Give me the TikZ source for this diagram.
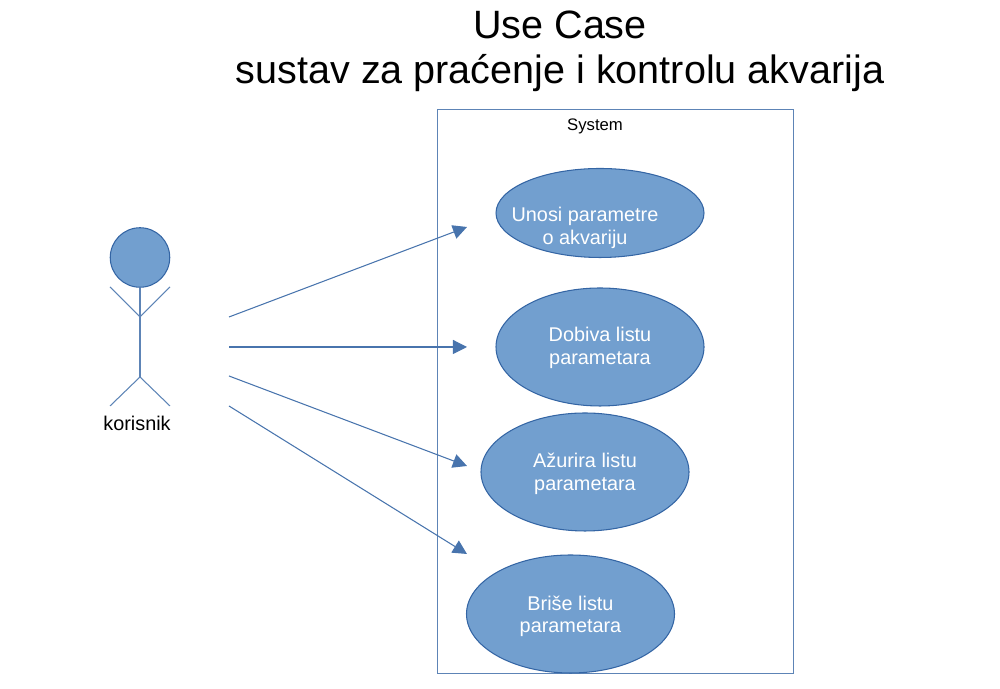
\documentclass[tikz,border=0pt]{standalone}
\usepackage{fontspec}
\setmainfont{Liberation Sans}
\definecolor{caseblue}{RGB}{114, 159, 207}
\definecolor{lineblue}{RGB}{52, 101, 164}
\usetikzlibrary{shapes, arrows.meta}
\tikzset{
  usecase/.style={draw=lineblue, fill=caseblue, ellipse, line width=0.6pt, minimum width=4.16cm, inner sep=0pt},
  casetext/.style={text=white, align=center, font=\fontsize{11.3}{12.8}\selectfont, inner sep=0pt},
  stick/.style={draw=lineblue!80, line width=0.6pt},
  usearrow/.style={draw=lineblue!90, line width=0.6pt, -{Triangle[length=8pt, width=8pt]}}
}

\begin{document}
\begin{tikzpicture}
  \useasboundingbox (0, 0) rectangle (20, 13.78);

  % Title
  \node[font=\fontsize{22.5}{25.6}\selectfont, align=center, inner sep=0pt] (title) at (11.2, 12.76) {Use Case\\sustav za praćenje i kontrolu akvarija};

  % System boundary
  \node[draw=lineblue!80, line width=0.5pt, minimum width=7.12cm, minimum height=11.28cm, inner sep=0pt] (sysbox) at (12.3, 5.96) {};
  \node[font=\fontsize{9.5}{11}\selectfont, inner sep=0pt] (syslabel) at (11.9, 11.25) {System};

  % Use cases
  \node[usecase, minimum height=1.78cm] (unosi) at (12, 9.52) {};
  \node[usecase, minimum height=2.36cm] (dobiva) at (12, 6.84) {};
  \node[usecase, minimum height=2.36cm] (azurira) at (11.7, 4.34) {};
  \node[usecase, minimum height=2.36cm] (brise) at (11.41, 1.5) {};

  \node[casetext] (unositext) at (11.7, 9.22) {Unosi parametre\\o akvariju};
  \node[casetext] (dobivatext) at (12, 6.82) {Dobiva listu\\parametara};
  \node[casetext] (azuriratext) at (11.7, 4.3) {Ažurira listu\\parametara};
  \node[casetext] (brisetext) at (11.41, 1.45) {Briše listu\\parametara};

  % Actor
  \node[draw=lineblue, fill=caseblue, circle, line width=0.6pt, minimum size=1.19cm, inner sep=0pt] (head) at (2.8, 8.63) {};
  \coordinate (hip) at (2.8, 6.24);
  \coordinate (chest) at (2.8, 7.44);
  \coordinate (handl) at (2.2, 8.04);
  \coordinate (handr) at (3.4, 8.04);
  \coordinate (footl) at (2.2, 5.66);
  \coordinate (footr) at (3.4, 5.66);
  \draw[stick] (head) -- (hip);
  \draw[stick] (handl) -- (chest) -- (handr);
  \draw[stick] (footl) -- (hip) -- (footr);
  \node[font=\fontsize{11.3}{12.8}\selectfont, inner sep=0pt] (korisnik) at (2.74, 5.31) {korisnik};

  % Connectors
  \coordinate (from1) at (4.58, 7.44);
  \coordinate (from2) at (4.58, 6.84);
  \coordinate (from3) at (4.58, 6.26);
  \coordinate (from4) at (4.58, 5.66);
  \coordinate (to1) at (9.34, 9.24);
  \coordinate (to2) at (9.34, 6.84);
  \coordinate (to3) at (9.34, 4.46);
  \coordinate (to4) at (9.34, 2.7);
  \draw[usearrow] (from1) -- (to1);
  \draw[usearrow] (from2) -- (to2);
  \draw[usearrow] (from3) -- (to3);
  \draw[usearrow] (from4) -- (to4);
\end{tikzpicture}
\end{document}
